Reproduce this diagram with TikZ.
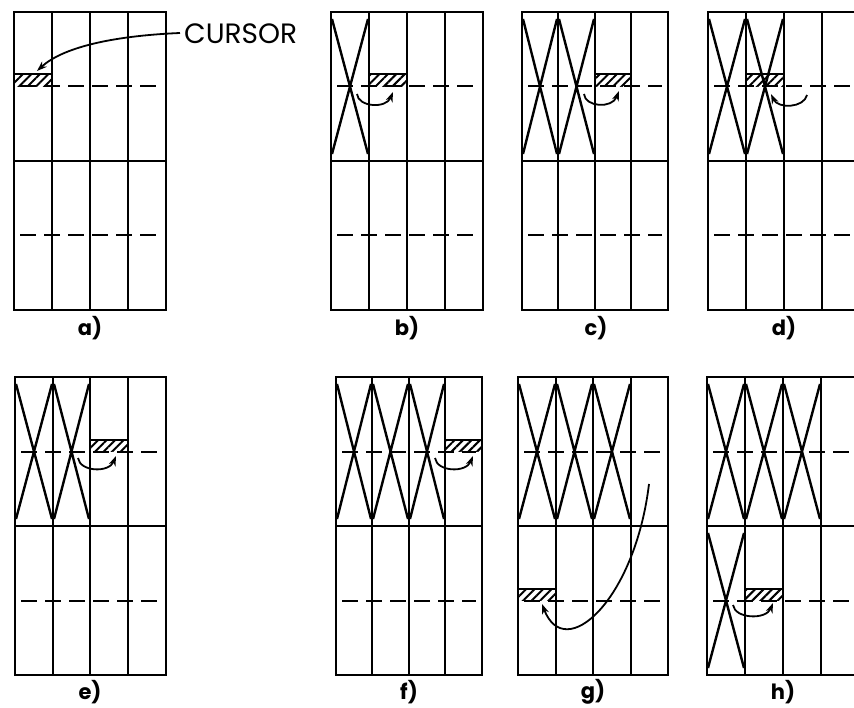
\documentclass[tikz,border=0pt]{standalone}
\usepackage{fontspec}
\setmainfont{Poppins}
\usetikzlibrary{arrows.meta,patterns.meta}

\tikzset{
  frame/.style={line width=2.6pt},
  midline/.style={line width=2pt},
  colline/.style={line width=2.6pt},
  guide/.style={line width=2pt, dash pattern=on 16pt off 8pt},
  cross/.style={line width=2.4pt, line join=round},
  hatchbox/.style={pattern={Lines[angle=45,distance=6pt,line width=2pt]}},
  hatchtop/.style={line width=2pt},
  moveto/.style={line width=1.8pt, -{Stealth[length=10pt,width=7pt]}},
  lbl/.style={inner sep=0pt, font=\fontsize{21}{21}\selectfont\bfseries},
  cursortext/.style={inner sep=0pt, anchor=west, font=\fontsize{28}{28}\selectfont},
}

% panel: name, x0..x4, ytop, ybottom
\newcommand\drawpanel[8]{%
  \pgfmathsetmacro\pym{(#7+#8)/2}%
  \pgfmathsetmacro\pdu{(#7+\pym)/2}%
  \pgfmathsetmacro\pdl{(\pym+#8)/2}%
  \draw[guide] (#2+6,\pdu) -- (#6-6,\pdu);
  \draw[guide] (#2+6,\pdl) -- (#6-6,\pdl);
  \draw[midline] (#2,\pym) -- (#6,\pym);
  \foreach \xx in {#3,#4,#5} \draw[colline] (\xx,#7) -- (\xx,#8);
  \draw[frame] (#2,#7) rectangle (#6,#8);
}
% cross in a cell: xl, xr, ytop, ybottom
\newcommand\crosscell[4]{%
  \draw[cross] (#1+1,#3+7) -- (#2-1,#4-7) (#2-1,#3+7) -- (#1+1,#4-7);
}
% hatched cursor: xl, xr, ydash
\newcommand\hatchcell[3]{%
  \path[hatchbox] (#1,#3-12) rectangle (#2,#3);
  \draw[hatchtop] (#1,#3-12) -- (#2,#3-12);
}

\begin{document}
\begin{tikzpicture}[x=1pt,y=-1pt]
\useasboundingbox (0,0) rectangle (854,708);
\begin{scope}
\clip (0,0) rectangle (854,708);

% ---------- a ----------
\drawpanel{a}{14}{52}{90}{128}{166}{12}{310}
\hatchcell{14}{52}{86.5}
\node[cursortext] (curs) at (184,34) {CURSOR};
\coordinate (aS) at (180,33);
\coordinate (aT) at (37,71);
\draw[moveto] (aS) .. controls (110,36) and (62,48) .. (aT);
\node[lbl] (la) at (90,328) {a)};

% ---------- b ----------
\drawpanel{b}{331}{369}{407}{445}{483}{12}{310}
\crosscell{331}{369}{12}{161}
\hatchcell{369}{407}{86.5}
\coordinate (bS) at (357,94);
\coordinate (bT) at (393,92);
\draw[moveto] (bS) .. controls (358,107) and (386,109) .. (bT);
\node[lbl] (lb) at (407,328) {b)};

% ---------- c ----------
\drawpanel{c}{522}{558}{595}{631}{668}{12}{310}
\crosscell{522}{558}{12}{161}
\crosscell{558}{595}{12}{161}
\hatchcell{595}{631}{86.5}
\coordinate (cS) at (584,94);
\coordinate (cT) at (619,91);
\draw[moveto] (cS) .. controls (585,107) and (612,109) .. (cT);
\node[lbl] (lc) at (596,328) {c)};

% ---------- d ----------
\drawpanel{d}{708}{746}{784}{822}{860}{12}{310}
\crosscell{708}{746}{12}{161}
\crosscell{746}{784}{12}{161}
\hatchcell{746}{784}{86.5}
\coordinate (dS) at (807,95);
\coordinate (dT) at (771,94);
\draw[moveto] (dS) .. controls (804,108) and (778,109) .. (dT);
\node[lbl] (ld) at (784,328) {d)};

% ---------- e ----------
\drawpanel{e}{15}{53}{90}{128}{166}{377}{675}
\crosscell{15}{53}{377}{526}
\crosscell{53}{90}{377}{526}
\hatchcell{90}{128}{451.5}
\coordinate (eS) at (78,458);
\coordinate (eT) at (116,456);
\draw[moveto] (eS) .. controls (80,472) and (109,473) .. (eT);
\node[lbl] (le) at (90,692) {e)};

% ---------- f ----------
\drawpanel{f}{336}{372}{409}{445}{482}{377}{675}
\crosscell{336}{372}{377}{526}
\crosscell{372}{409}{377}{526}
\crosscell{409}{445}{377}{526}
\hatchcell{445}{482}{451.5}
\coordinate (fS) at (435,458);
\coordinate (fT) at (473,456);
\draw[moveto] (fS) .. controls (437,472) and (466,473) .. (fT);
\node[lbl] (lf) at (409,692) {f)};

% ---------- g ----------
\drawpanel{g}{518}{556}{593}{631}{668}{377}{675}
\crosscell{518}{556}{377}{526}
\crosscell{556}{593}{377}{526}
\crosscell{593}{631}{377}{526}
\hatchcell{518}{556}{600.5}
\coordinate (gS) at (649,484);
\coordinate (gT) at (542,604);
\draw[moveto] (gS) .. controls (635,600) and (565,664) .. (gT);
\node[lbl] (lg) at (593,692) {g)};

% ---------- h ----------
\drawpanel{h}{707}{745}{783}{821}{859}{377}{675}
\crosscell{707}{745}{377}{526}
\crosscell{745}{783}{377}{526}
\crosscell{783}{821}{377}{526}
\crosscell{707}{745}{526}{675}
\hatchcell{745}{783}{600.5}
\coordinate (hS) at (733,605);
\coordinate (hT) at (773,603);
\draw[moveto] (hS) .. controls (735,619) and (766,620) .. (hT);
\node[lbl] (lh) at (783,692) {h)};

\end{scope}
\end{tikzpicture}
\end{document}
